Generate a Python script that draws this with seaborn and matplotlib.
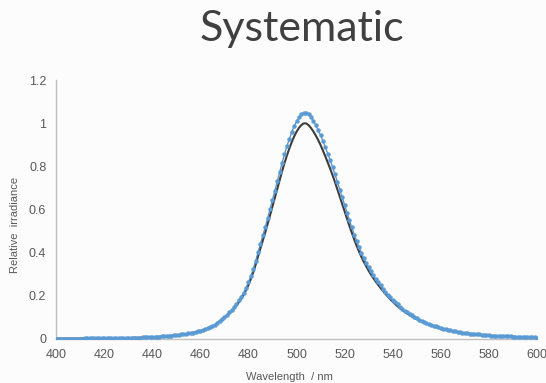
import matplotlib
matplotlib.use("Agg")
import matplotlib.pyplot as plt
import seaborn as sns
import pandas as pd

# Wavelength grid (nm) shared by both spectra
wavelength = list(range(400, 601))

# Reference spectrum, normalised to its peak
reference = (
    [0.002] * 12 + [0.003] * 11 + [0.004] * 7 +
    [0.005, 0.005, 0.005, 0.006, 0.006, 0.006, 0.007, 0.007, 0.007, 0.008, 0.008,
     0.009, 0.010, 0.010, 0.011, 0.012, 0.013, 0.014, 0.015, 0.016, 0.018,
     0.019, 0.020, 0.022, 0.023, 0.025, 0.027, 0.029, 0.031, 0.034, 0.037,
     0.040, 0.044, 0.048, 0.053, 0.058, 0.064, 0.071, 0.081, 0.089, 0.098,
     0.107, 0.117, 0.128, 0.141, 0.155, 0.170, 0.187, 0.205, 0.226, 0.250,
     0.278, 0.309, 0.344, 0.383, 0.420, 0.457, 0.494, 0.533, 0.573, 0.614,
     0.655, 0.696, 0.737, 0.777, 0.815, 0.850, 0.882, 0.912, 0.938, 0.960,
     0.978, 0.991, 0.999, 0.999, 0.991, 0.978, 0.962, 0.943, 0.922, 0.899,
     0.873, 0.846, 0.818, 0.789, 0.759, 0.727, 0.693, 0.659, 0.625, 0.591,
     0.557, 0.524, 0.492, 0.461, 0.432, 0.405, 0.380, 0.357, 0.336, 0.316,
     0.298, 0.281, 0.265, 0.250, 0.236, 0.222, 0.209, 0.196, 0.184, 0.173,
     0.162, 0.152, 0.143, 0.134, 0.126, 0.118, 0.111, 0.104, 0.098, 0.092,
     0.086, 0.081, 0.076, 0.071, 0.067, 0.063, 0.059, 0.055, 0.052, 0.049,
     0.046, 0.043, 0.041, 0.038, 0.036, 0.034, 0.032, 0.030, 0.029, 0.027,
     0.026, 0.024, 0.023, 0.022, 0.021, 0.020, 0.019, 0.018, 0.017, 0.016,
     0.015, 0.015, 0.014, 0.013, 0.013, 0.012, 0.012, 0.011, 0.011, 0.010,
     0.010, 0.009, 0.009, 0.008, 0.008, 0.008, 0.007, 0.007, 0.007, 0.006]
)

# Measured spectrum with a systematic gain error
measured = (
    [0.002] * 12 + [0.003] * 11 + [0.004] * 7 +
    [0.005, 0.005, 0.005, 0.006, 0.006, 0.006, 0.007, 0.007, 0.007, 0.008, 0.008,
     0.009, 0.011, 0.011, 0.012, 0.013, 0.014, 0.015, 0.016, 0.017, 0.019,
     0.020, 0.021, 0.023, 0.024, 0.026, 0.028, 0.030, 0.033, 0.036, 0.039,
     0.042, 0.046, 0.050, 0.056, 0.061, 0.067, 0.075, 0.085, 0.093, 0.103,
     0.112, 0.123, 0.134, 0.148, 0.163, 0.179, 0.196, 0.215, 0.237, 0.263,
     0.292, 0.324, 0.361, 0.402, 0.441, 0.480, 0.519, 0.560, 0.602, 0.645,
     0.688, 0.731, 0.774, 0.816, 0.856, 0.893, 0.926, 0.958, 0.985, 1.008,
     1.027, 1.041, 1.049, 1.049, 1.041, 1.027, 1.010, 0.990, 0.968, 0.944,
     0.917, 0.888, 0.859, 0.828, 0.797, 0.763, 0.728, 0.692, 0.656, 0.621,
     0.585, 0.550, 0.517, 0.484, 0.454, 0.425, 0.399, 0.375, 0.353, 0.332,
     0.313, 0.295, 0.278, 0.263, 0.248, 0.233, 0.219, 0.206, 0.193, 0.182,
     0.170, 0.160, 0.150, 0.141, 0.132, 0.124, 0.117, 0.109, 0.103, 0.097,
     0.090, 0.085, 0.080, 0.075, 0.070, 0.066, 0.062, 0.058, 0.055, 0.051,
     0.048, 0.045, 0.043, 0.040, 0.038, 0.036, 0.034, 0.032, 0.030, 0.028,
     0.027, 0.025, 0.024, 0.023, 0.022, 0.021, 0.020, 0.019, 0.018, 0.017,
     0.016, 0.016, 0.015, 0.014, 0.014, 0.013, 0.013, 0.012, 0.012, 0.011,
     0.011, 0.009, 0.009, 0.008, 0.008, 0.008, 0.007, 0.007, 0.007, 0.006]
)

x_ticks = [400, 420, 440, 460, 480, 500, 520, 540, 560, 580, 600]
y_ticks = [0, 0.2, 0.4, 0.6, 0.8, 1.0, 1.2]
y_tick_labels = ["0", "0.2", "0.4", "0.6", "0.8", "1", "1.2"]

df = pd.DataFrame({"wavelength": wavelength,
                   "reference": reference,
                   "measured": measured})

sns.set_style("white")
plt.rcParams["font.family"] = ["Liberation Sans", "DejaVu Sans"]

fig = plt.figure(figsize=(5.46, 3.83), dpi=100)
fig.patch.set_facecolor("#fcfcfc")
ax = fig.add_axes([0.1026, 0.1149, 0.8809, 0.6762])
ax.set_facecolor("#fcfcfc")

sns.lineplot(data=df, x="wavelength", y="reference", ax=ax, color="#3c3c3c",
             linewidth=1.5, zorder=2)
sns.lineplot(data=df, x="wavelength", y="measured", ax=ax, color="#4f8cc9",
             linewidth=0.9, marker="o", markersize=3.2, markeredgewidth=0,
             markerfacecolor="#5b9bd5", zorder=3)

ax.set_xlim(400, 600)
ax.set_ylim(0, 1.2)
ax.set_xticks(x_ticks)
ax.set_xticklabels([str(t) for t in x_ticks])
ax.set_yticks(y_ticks)
ax.set_yticklabels(y_tick_labels)

for side in ("top", "right"):
    ax.spines[side].set_visible(False)
for side in ("left", "bottom"):
    ax.spines[side].set_color("#bfbfbf")
    ax.spines[side].set_linewidth(1.0)

ax.tick_params(axis="both", which="major", direction="out", length=4,
               width=1.0, color="#bfbfbf", labelcolor="#595959",
               labelsize=9, pad=3)

ax.set_xlabel("Wavelength  / nm", fontsize=8, color="#595959")
ax.set_ylabel("Relative  irradiance", fontsize=8, color="#595959")
ax.xaxis.set_label_coords(0.486, -0.127)
ax.yaxis.set_label_coords(-0.075, 0.44)

fig.text(0.553, 0.925, "Systematic", ha="center", va="center",
         fontsize=31, color="#404040", family=["Lato", "DejaVu Sans"])

fig.savefig("out.png", dpi=100, facecolor=fig.get_facecolor())
